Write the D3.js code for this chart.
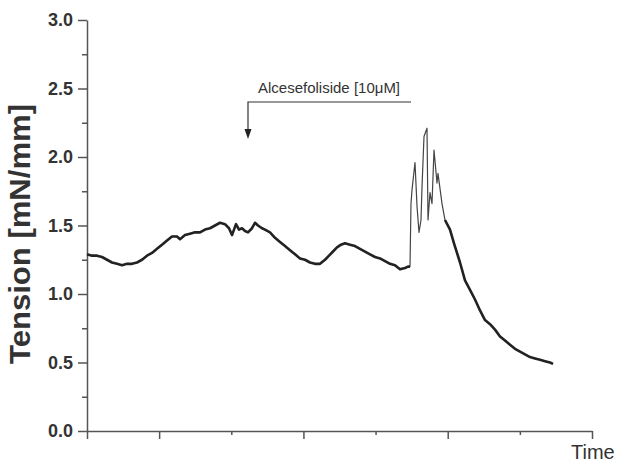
<!DOCTYPE html>
<html><head><meta charset="utf-8">
<script src="https://cdn.jsdelivr.net/npm/d3@7"></script>
<style>body{margin:0;background:#fff}svg{display:block}</style>
</head><body>
<svg id="c" width="619" height="463"></svg>
<script>
const time = [0,5,10,15,20,25,30,35,40,45,50,55,60,65,70,75,80,85,90,93,98,103,108,113,118,123,128,133,138,142,145,149,152,155,158,161,165,168,171,175,178,183,188,193,198,203,208,213,218,223,228,233,238,242,246,250,254,258,263,268,273,278,283,288,293,298,303,308,313,318,321,323,324,325,328,330,332,334,335,337,340,341,343,345,347,350,351,355,358,363,367,373,378,383,388,393,398,403,408,413,418,423,428,433,438,443,448,453,458,463,466];
const tension = [1.29,1.28,1.28,1.27,1.25,1.23,1.22,1.21,1.22,1.22,1.23,1.25,1.28,1.30,1.33,1.36,1.39,1.42,1.42,1.40,1.43,1.44,1.45,1.45,1.47,1.48,1.50,1.52,1.51,1.48,1.43,1.51,1.47,1.48,1.46,1.45,1.48,1.52,1.50,1.48,1.47,1.45,1.41,1.38,1.35,1.32,1.29,1.26,1.25,1.23,1.22,1.22,1.25,1.28,1.31,1.34,1.36,1.37,1.36,1.35,1.33,1.31,1.29,1.27,1.26,1.24,1.22,1.21,1.18,1.19,1.20,1.20,1.66,1.76,1.96,1.64,1.45,1.54,1.78,2.15,2.21,1.54,1.74,1.66,2.05,1.81,1.88,1.66,1.54,1.47,1.37,1.23,1.10,1.03,0.96,0.88,0.81,0.78,0.74,0.69,0.66,0.63,0.60,0.58,0.56,0.54,0.53,0.52,0.51,0.50,0.49];
const yMajorTicks = [0, 0.5, 1.0, 1.5, 2.0, 2.5, 3.0];
const yMinorTicks = [0.25, 0.75, 1.25, 1.75, 2.25, 2.75];
const xMajorTicks = [0, 72.14, 216.43, 360.71, 505];
const xMinorTicks = [144.29, 288.57, 432.86];
const yLabel = "Tension [mN/mm]";
const xLabel = "Time";
const annotation = "Alcesefoliside [10\u03bcM]";
const annotationTime = 161;
const annotationEnd = 324;

const svg = d3.select("#c");
const x = d3.scaleLinear().domain([0, 505]).range([87, 592]);
const y = d3.scaleLinear().domain([0, 3]).range([431, 20]);
const axisColor = "#555";
const font = "'Liberation Sans', Arial, sans-serif";

// y axis
const gy = svg.append("g").attr("transform", "translate(87,0)")
  .call(d3.axisLeft(y).tickValues(yMajorTicks).tickSize(9).tickSizeOuter(0).tickPadding(5).tickFormat(d3.format(".1f")));
svg.append("g").attr("transform", "translate(87,0)")
  .call(d3.axisLeft(y).tickValues(yMinorTicks).tickSize(5).tickSizeOuter(0).tickFormat(""))
  .select(".domain").remove();
// x axis
const gx = svg.append("g").attr("transform", "translate(0,431)")
  .call(d3.axisBottom(x).tickValues(xMajorTicks).tickSize(8).tickSizeOuter(0).tickFormat(""));
svg.append("g").attr("transform", "translate(0,431)")
  .call(d3.axisBottom(x).tickValues(xMinorTicks).tickSize(4).tickSizeOuter(0).tickFormat(""))
  .select(".domain").remove();
svg.selectAll(".domain, .tick line").attr("stroke", axisColor).attr("stroke-width", 1.5);
gy.selectAll(".tick text").attr("font-family", font).attr("font-size", 18).attr("font-weight", "bold").attr("fill", "#333");

// line
const line = d3.line().x(d => x(time[d])).y(d => y(tension[d]));
const idx = d3.range(time.length);
svg.append("path").datum(idx).attr("d", line)
  .attr("fill", "none").attr("stroke", "#444").attr("stroke-width", 1.2).attr("stroke-linejoin", "round");
const noisySegs = [idx.filter(i => time[i] <= 323), idx.filter(i => time[i] >= 358)];
noisySegs.forEach(seg => {
  svg.append("path").datum(seg).attr("d", line)
    .attr("fill", "none").attr("stroke", "#222").attr("stroke-width", 2.6).attr("stroke-linejoin", "round");
});

// annotation
const ax = x(annotationTime), ae = x(annotationEnd);
svg.append("path").attr("d", `M${ae},102H${ax}V130`).attr("fill", "none").attr("stroke", "#333").attr("stroke-width", 1.2);
svg.append("path").attr("d", `M${ax-3.5},129L${ax+3.5},129L${ax},139Z`).attr("fill", "#222");
svg.append("text").attr("x", 258).attr("y", 93).attr("font-family", font).attr("font-size", 15)
  .attr("fill", "#333").text(annotation);

// axis labels
svg.append("text").attr("transform", "translate(30,234) rotate(-90)").attr("text-anchor", "middle")
  .attr("font-family", font).attr("font-size", 29).attr("font-weight", "bold").attr("fill", "#333")
  .attr("textLength", 260).attr("lengthAdjust", "spacingAndGlyphs").text(yLabel);
svg.append("text").attr("x", 571).attr("y", 459).attr("font-family", font).attr("font-size", 20)
  .attr("fill", "#333").text(xLabel);
</script>
</body></html>
